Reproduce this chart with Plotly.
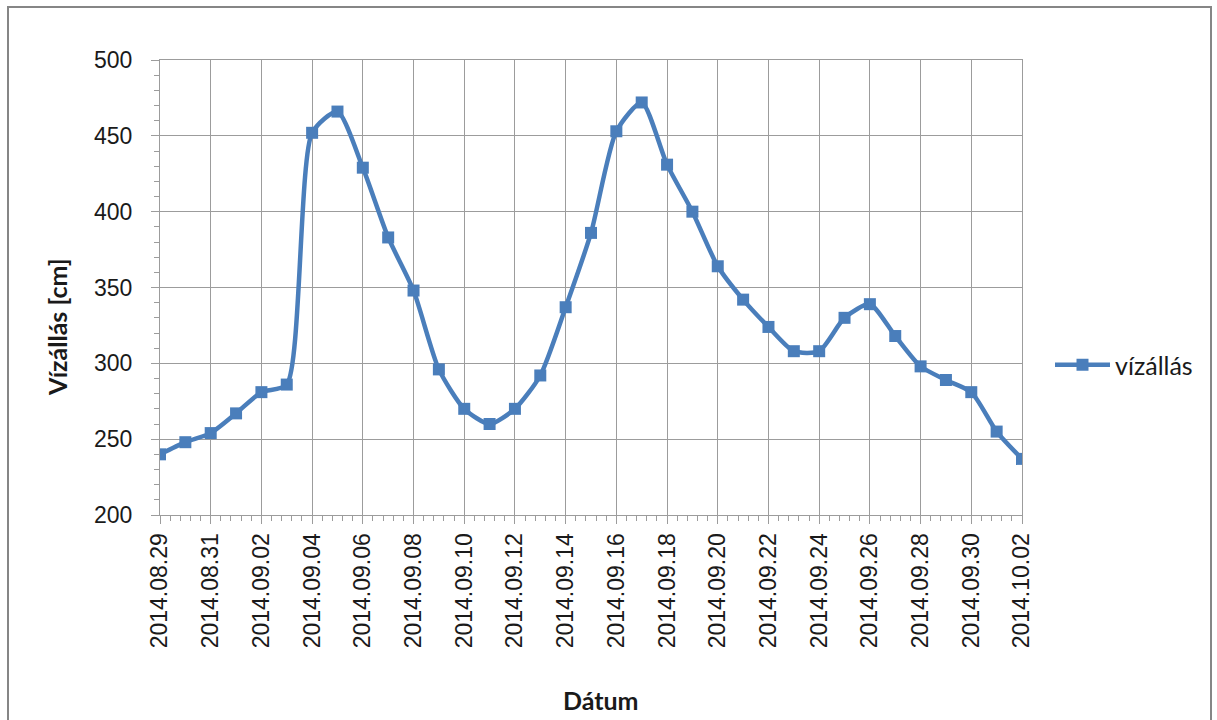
import plotly.graph_objects as go
import pandas as pd

dates = pd.date_range("2014-08-29", "2014-10-02", freq="D")
vizallas = [240, 248, 254, 267, 281, 286, 452, 466, 429, 383, 348, 296,
            270, 260, 270, 292, 337, 386, 453, 472, 431, 400, 364, 342,
            324, 308, 308, 330, 339, 318, 298, 289, 281, 255, 237]
series_name = "vízállás"
x_title = "Dátum"
y_title = "Vízállás [cm]"

W, H = 1217, 720
L, R, T, B = 160, 1022, 60, 515
pw, ph = R - L, B - T

blue = "#4a7ebb"
grid = "#9c9c9c"
tickfont = dict(family="Liberation Sans, Arial", size=23, color="#1a1a1a")

fig = go.Figure()
fig.add_trace(go.Scatter(
    x=dates, y=vizallas, name=series_name, mode="lines+markers",
    line=dict(color=blue, width=4.5, shape="spline", smoothing=0.65),
    marker=dict(symbol="square", size=12, color=blue),
))

fig.update_layout(
    width=W, height=H,
    margin=dict(l=L, r=W - R, t=T, b=H - B),
    paper_bgcolor="white", plot_bgcolor="white",
    showlegend=True,
    legend=dict(x=(1050 - L) / pw, xanchor="left", y=(B - 365) / ph, yanchor="middle",
                font=dict(family="Lato", size=25, color="#1a1a1a"),
                bgcolor="rgba(0,0,0,0)", itemwidth=55),
    xaxis=dict(
        type="date",
        range=[dates[0], dates[-1]],
        tick0="2014-08-29", dtick=2 * 86400000,
        tickformat="%Y.%m.%d", tickangle=-90,
        tickfont=tickfont,
        showgrid=True, gridcolor=grid, gridwidth=1,
        showline=True, linecolor=grid, linewidth=1, mirror=True,
        ticks="outside", ticklen=8, tickcolor=grid,
        minor=dict(dtick=int(0.4 * 86400000), ticks="outside", ticklen=5,
                   tickcolor=grid, showgrid=False),
        zeroline=False,
    ),
    yaxis=dict(
        range=[200, 500], dtick=50, tick0=200,
        tickfont=tickfont, ticklabelstandoff=14,
        showgrid=True, gridcolor=grid, gridwidth=1,
        showline=True, linecolor=grid, linewidth=1, mirror=True,
        ticks="outside", ticklen=8, tickcolor=grid,
        minor=dict(dtick=10, ticks="outside", ticklen=5, tickcolor=grid, showgrid=False),
        zeroline=False,
    ),
    annotations=[
        dict(text=f"<b>{y_title}</b>", xref="paper", yref="paper",
             x=(57 - L) / pw, y=(B - 327) / ph, textangle=-90, showarrow=False,
             xanchor="center", yanchor="middle",
             font=dict(family="Lato", size=25, color="#1a1a1a")),
        dict(text=f"<b>{x_title}</b>", xref="paper", yref="paper",
             x=(601 - L) / pw, y=(B - 700) / ph, showarrow=False,
             xanchor="center", yanchor="middle",
             font=dict(family="Lato", size=25, color="#1a1a1a")),
    ],
    shapes=[
        dict(type="rect", xref="paper", yref="paper",
             x0=(8 - L) / pw, x1=(1211 - L) / pw,
             y0=(B - 730) / ph, y1=(B - 7) / ph,
             line=dict(color="#868686", width=2), layer="below"),
    ],
)

fig.write_html("out.html")
